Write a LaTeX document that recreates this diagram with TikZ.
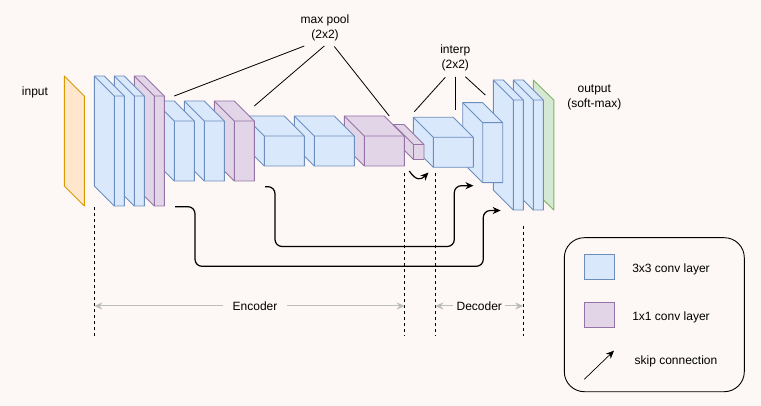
\documentclass[tikz,border=0pt]{standalone}
\usepackage{fontspec}
\setmainfont{Liberation Sans}
\usetikzlibrary{arrows.meta}
\definecolor{bgc}{HTML}{FDF8F5}
\definecolor{bfill}{HTML}{DAE8FC}
\definecolor{bline}{HTML}{6C8EBF}
\definecolor{pfill}{HTML}{E1D5E7}
\definecolor{pline}{HTML}{9673A6}
\definecolor{ofill}{HTML}{FFE6CC}
\definecolor{oline}{HTML}{D79B00}
\definecolor{gfill}{HTML}{D5E8D4}
\definecolor{gline}{HTML}{82B366}
\definecolor{dimc}{HTML}{BDBDBD}
\tikzset{
  bluecube/.style={draw=bline, fill=bfill, line width=0.9pt, line join=round},
  purplecube/.style={draw=pline, fill=pfill, line width=0.9pt, line join=round},
  lbl/.style={font=\fontsize{12}{15}\selectfont, align=center, inner sep=0pt},
  poolline/.style={draw=black, line width=0.8pt},
  skiparrow/.style={draw=black, line width=1.2pt, rounded corners=7pt, -{Stealth[length=8pt,width=7pt,inset=2.5pt]}},
  sepline/.style={draw=black, line width=0.9pt, dash pattern=on 3pt off 3pt},
  dimarrow/.style={draw=dimc, line width=1pt, {Stealth[length=8pt,width=7pt,inset=2.5pt]}-{Stealth[length=8pt,width=7pt,inset=2.5pt]}},
}
% #1 name, #2 bx, #3 by, #4 front width, #5 front height, #6 style
\newcommand{\ucube}[6]{%
  \path[#6] (#2,#3) coordinate (#1-b) -- ++(#4,0) -- ++(20,20) -- ++(0,#5) -- ++(-#4,0) -- ++(-20,-20) -- cycle;
  \path[#6, fill=none] (#2,#3) -- ++(20,20) coordinate (#1-f) -- ++(#4,0) (#1-f) -- ++(0,#5);
}
\begin{document}
\begin{tikzpicture}[x=1pt,y=-1pt]
\fill[bgc] (0,0) rectangle (761,406);
\useasboundingbox (0,0) rectangle (761,406);

% ----- decoder blocks (right to left for z-order)
\path[draw=gline, fill=gfill, line width=0.9pt, line join=round]
  (533.3,80) coordinate (out-b) -- (553.8,100) -- (553.8,210) -- (533.3,190) -- cycle;
\ucube{d5b}{513.3}{80}{10}{110}{bluecube}
\ucube{d5a}{493.3}{80}{10}{110}{bluecube}
\ucube{d4b}{462.7}{102.7}{20}{60}{bluecube}
\ucube{d4a}{413.3}{117.3}{40}{30}{bluecube}
% ----- encoder blocks
\ucube{e3d}{393.5}{124.5}{10.5}{15}{purplecube}
\ucube{e3c}{344.3}{116}{40}{30}{purplecube}
\ucube{e3b}{294.3}{116}{40}{30}{bluecube}
\ucube{e3a}{244.3}{116}{40}{30}{bluecube}
\ucube{e2c}{214.3}{101}{20}{60}{purplecube}
\ucube{e2b}{184.3}{101}{20}{60}{bluecube}
\ucube{e2a}{154.3}{101}{20}{60}{bluecube}
\ucube{e1c}{134.3}{76}{10}{110}{purplecube}
\ucube{e1b}{114.3}{76}{10}{110}{bluecube}
\ucube{e1a}{94.3}{76}{10}{110}{bluecube}
% input
\path[draw=oline, fill=ofill, line width=0.9pt, line join=round]
  (64.3,76) coordinate (in-b) -- (84.3,96) -- (84.3,206) -- (64.3,186) -- cycle;

% ----- labels
\node[lbl] (inputlbl) at (35,92) {input};
\node[lbl] (poollbl) at (325,27.5) {max pool\\(2x2)};
\node[lbl] (interplbl) at (455.3,57.5) {interp\\(2x2)};
\node[lbl] (outlbl) at (594.3,97.5) {output\\(soft-max)};

% ----- max pool lines
\coordinate (p1s) at (304.3,46);   \coordinate (p1e) at (174.3,96);
\coordinate (p2s) at (324.3,46);   \coordinate (p2e) at (254.3,106);
\coordinate (p3s) at (334.3,46.5); \coordinate (p3e) at (389.3,116);
\draw[poolline] (p1s) -- (p1e);
\draw[poolline] (p2s) -- (p2e);
\draw[poolline] (p3s) -- (p3e);
% ----- interp lines
\coordinate (i1s) at (445.3,77.3); \coordinate (i1e) at (414.3,111.7);
\coordinate (i2s) at (455.3,76.7); \coordinate (i2e) at (455.3,110);
\coordinate (i3s) at (465.3,76.7); \coordinate (i3e) at (485.3,95);
\draw[poolline] (i1s) -- (i1e);
\draw[poolline] (i2s) -- (i2e);
\draw[poolline] (i3s) -- (i3e);

% ----- skip connections
\coordinate (s1s) at (409.3,171);  \coordinate (s1e) at (428.5,172.5);
\draw[skiparrow] (s1s) .. controls (416,181) and (421,180) .. (s1e);
\coordinate (s2s) at (265,186.7);  \coordinate (s2e) at (473.5,185.7);
\draw[skiparrow] (s2s) -- (275,186.7) -- (275,246.5) -- (454.3,246.5) -- (454.3,185.7) -- (s2e);
\coordinate (s3s) at (175,206.7);  \coordinate (s3e) at (500.7,210.5);
\draw[skiparrow] (s3s) -- (195,206.7) -- (195,266.3) -- (483.3,266.3) -- (483.3,210.5) -- (s3e);

% ----- separators
\coordinate (v1t) at (94.3,207);  \coordinate (v1b) at (94.3,336);
\coordinate (v2t) at (404.7,173); \coordinate (v2b) at (404.7,336);
\coordinate (v3t) at (435.3,173); \coordinate (v3b) at (435.3,336);
\coordinate (v4t) at (523.3,226); \coordinate (v4b) at (523.3,336);
\draw[sepline] (v1t) -- (v1b);
\draw[sepline] (v2t) -- (v2b);
\draw[sepline] (v3t) -- (v3b);
\draw[sepline] (v4t) -- (v4b);
\coordinate (encl) at (94.3,306); \coordinate (encr) at (404.7,306);
\coordinate (decl) at (435.3,306); \coordinate (decr) at (523.3,306);
\draw[dimarrow] (encl) -- (encr);
\draw[dimarrow] (decl) -- (decr);
\node[lbl, fill=bgc, inner xsep=10pt, inner ysep=2pt] (enclbl) at (255,306) {Encoder};
\node[lbl, fill=bgc, inner xsep=3.5pt, inner ysep=2pt] (declbl) at (479.3,306) {Decoder};

% ----- legend
\node[draw=black, line width=0.9pt, rounded corners=20pt, minimum width=180pt, minimum height=154pt, inner sep=0pt] (legend) at (654.3,314.7) {};
\node[draw=bline, fill=bfill, line width=0.9pt, minimum width=30pt, minimum height=25pt, inner sep=0pt] (lg3) at (599.3,266.8) {};
\node[draw=pline, fill=pfill, line width=0.9pt, minimum width=30pt, minimum height=25pt, inner sep=0pt] (lg1) at (599.3,315) {};
\node[lbl] (lg3t) at (671,269.3) {3x3 conv layer};
\node[lbl] (lg1t) at (671,317.7) {1x1 conv layer};
\node[lbl] (lgst) at (676,361.7) {skip connection};
\coordinate (lgas) at (584.3,379.3); \coordinate (lgae) at (614,350.7);
\draw[black, line width=0.7pt, -{Stealth[length=8pt,width=7pt,inset=2.5pt]}] (lgas) -- (lgae);
\end{tikzpicture}
\end{document}
